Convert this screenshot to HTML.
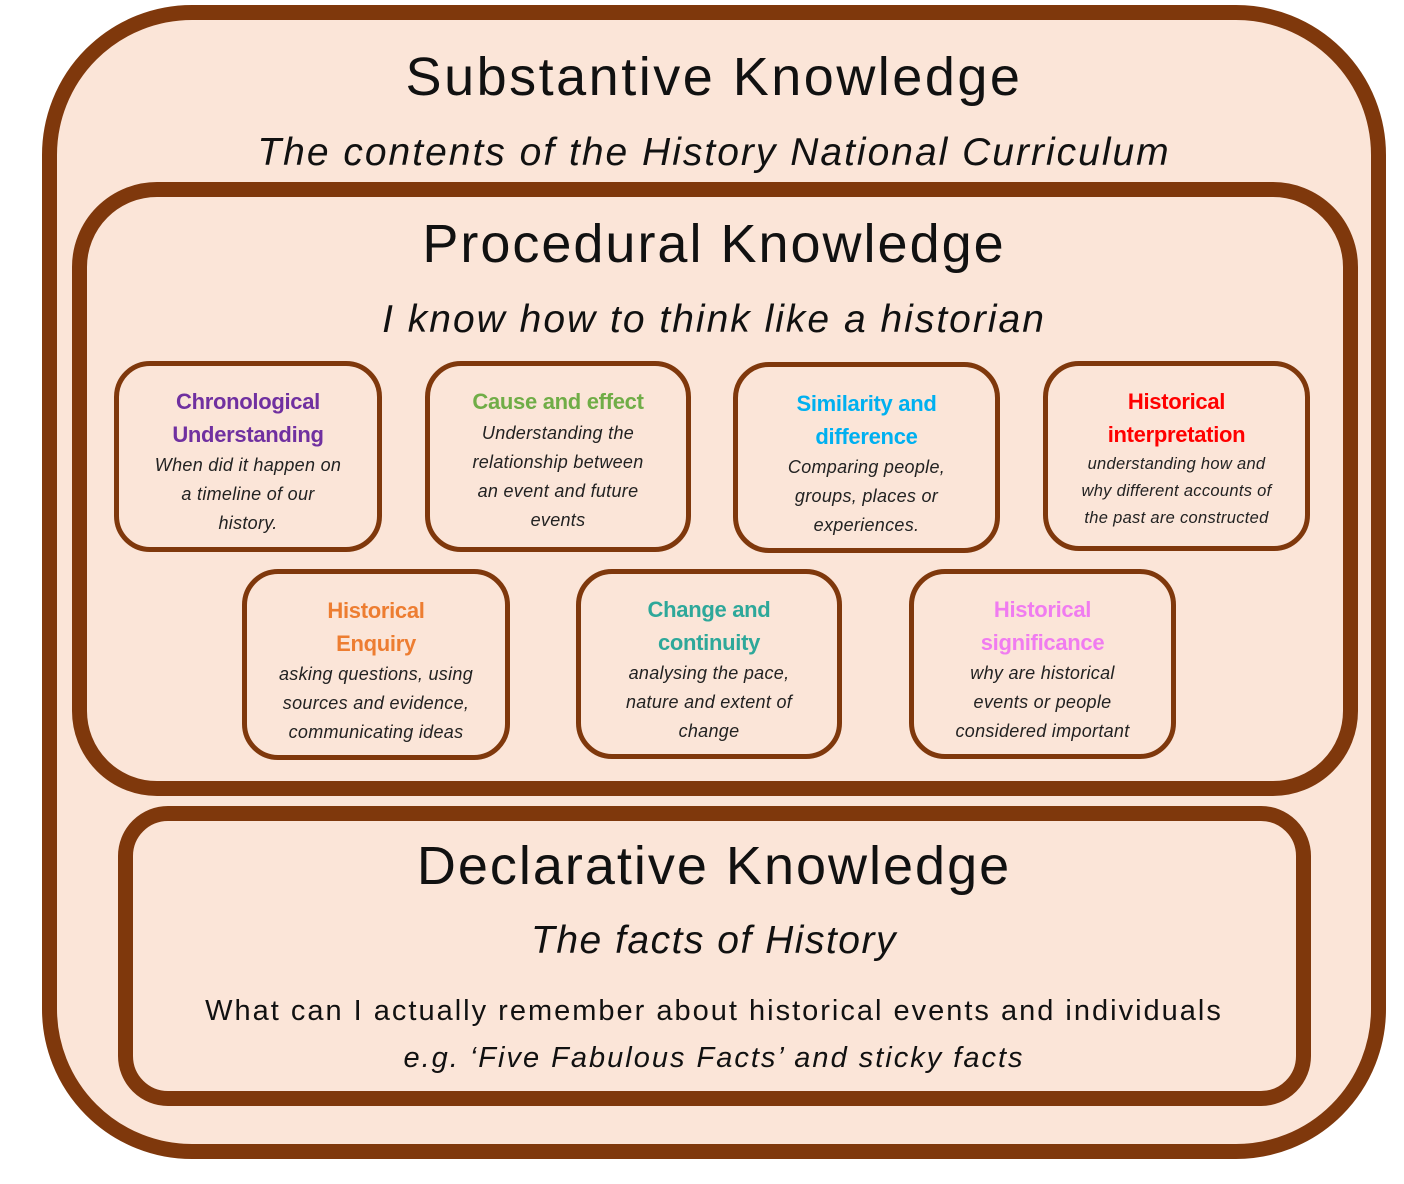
<!DOCTYPE html>
<html><head><meta charset="utf-8"><style>
body{margin:0;width:1404px;height:1184px;background:#fff;position:relative;font-family:"Liberation Sans",sans-serif;overflow:hidden}
.b{position:absolute;box-sizing:border-box;background:#fbe5d8;border:15px solid #7f380c}
.t{position:absolute;left:0;width:1404px;text-align:center;color:#111;white-space:nowrap}
.s{position:absolute;box-sizing:border-box;border:5px solid #7f380c;border-radius:36px;background:#fbe5d8;text-align:center;padding-top:20px}
.s h{display:block;font-weight:bold;font-size:22px;line-height:33px;letter-spacing:-0.3px}
.s p{margin:0;font-style:italic;font-size:18px;line-height:29px;color:#222;letter-spacing:0.3px;white-space:nowrap}
</style></head><body>
<div class="b" style="left:42px;top:5px;width:1344px;height:1154px;border-radius:150px"></div>
<div class="t" style="top:46px;font-size:54px;left:12px;letter-spacing:2.5px">Substantive Knowledge</div>
<div class="t" style="top:131px;font-size:39px;font-style:italic;left:12px;letter-spacing:2px">The contents of the History National Curriculum</div>
<div class="b" style="left:72px;top:182px;width:1286px;height:614px;border-radius:85px"></div>
<div class="t" style="top:213px;font-size:54px;left:12px;letter-spacing:2px">Procedural Knowledge</div>
<div class="t" style="top:298px;font-size:39px;font-style:italic;left:12px;letter-spacing:2px">I know how to think like a historian</div>
<div class="b" style="left:118px;top:806px;width:1193px;height:300px;border-radius:50px"></div>
<div class="t" style="top:835px;font-size:54px;left:12px;letter-spacing:2px">Declarative Knowledge</div>
<div class="t" style="top:919px;font-size:39px;font-style:italic;left:12px;letter-spacing:1.5px">The facts of History</div>
<div class="t" style="top:995px;font-size:29px;left:12px;letter-spacing:2px">What can I actually remember about historical events and individuals</div>
<div class="t" style="top:1042px;font-size:29px;font-style:italic;left:12px;letter-spacing:2px">e.g. ‘Five Fabulous Facts’ and sticky facts</div>

<div class="s" style="left:114px;top:361px;width:268px;height:191px;padding-top:19px"><h style="color:#7030a0">Chronological<br>Understanding</h><p>When did it happen on<br>a timeline of our<br>history.</p></div>
<div class="s" style="left:425px;top:361px;width:266px;height:191px;padding-top:19px"><h style="color:#70ad47;line-height:34px">Cause and effect</h><p>Understanding the<br>relationship between<br>an event and future<br>events</p></div>
<div class="s" style="left:733px;top:362px;width:267px;height:191px;padding-top:20px"><h style="color:#00b0f0">Similarity and<br>difference</h><p>Comparing people,<br>groups, places or<br>experiences.</p></div>
<div class="s" style="left:1043px;top:361px;width:267px;height:190px;padding-top:19px"><h style="color:#ff0000">Historical<br>interpretation</h><p style="font-size:16.5px;line-height:27px">understanding how and<br>why different accounts of<br>the past are constructed</p></div>
<div class="s" style="left:242px;top:569px;width:268px;height:191px;padding-top:20px"><h style="color:#ed7d31">Historical<br>Enquiry</h><p>asking questions, using<br>sources and evidence,<br>communicating ideas</p></div>
<div class="s" style="left:576px;top:569px;width:266px;height:190px;padding-top:19px"><h style="color:#2ea89a">Change and<br>continuity</h><p>analysing the pace,<br>nature and extent of<br>change</p></div>
<div class="s" style="left:909px;top:569px;width:267px;height:190px;padding-top:19px"><h style="color:#f07cf0">Historical<br>significance</h><p>why are historical<br>events or people<br>considered important</p></div>
</body></html>
